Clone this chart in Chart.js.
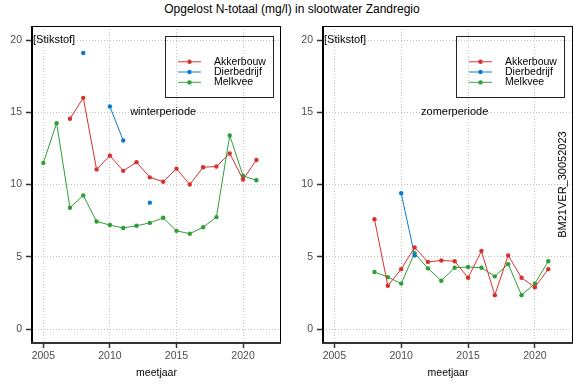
<!DOCTYPE html>
<html><head><meta charset="utf-8">
<script src="https://cdn.jsdelivr.net/npm/chart.js@4.4.1/dist/chart.umd.min.js"></script>
<style>
html,body{margin:0;padding:0;background:#fff;}
body{width:584px;height:389px;position:relative;overflow:hidden;font-family:"Liberation Sans",Arial,sans-serif;}
#title{position:absolute;left:0;width:584px;top:1px;text-align:center;font-size:12px;line-height:16px;color:#000;}
canvas{position:absolute;top:0;}
</style></head><body>
<div id="title">Opgelost N-totaal (mg/l) in slootwater Zandregio</div>
<canvas id="c1" width="292" height="389" style="left:0"></canvas>
<canvas id="c2" width="293" height="389" style="left:291px"></canvas>
<script>
const years = [2005,2006,2007,2008,2009,2010,2011,2012,2013,2014,2015,2016,2017,2018,2019,2020,2021];
const seriesNames = ['Akkerbouw','Dierbedrijf','Melkvee'];
const winterAkkerbouw  = [null,null,14.55,16.0,11.05,12.0,10.95,11.55,10.5,10.2,11.1,10.0,11.2,11.25,12.15,10.35,11.7];
const winterDierbedrijf= [null,null,null,19.1,null,15.4,13.05,null,8.75,null,null,null,null,null,null,null,null];
const winterMelkvee    = [11.5,14.25,8.4,9.25,7.45,7.2,7.0,7.15,7.35,7.7,6.8,6.6,7.05,7.75,13.4,10.6,10.3];
const zomerAkkerbouw   = [null,null,null,7.6,3.0,4.15,5.65,4.65,4.75,4.7,3.55,5.4,2.35,5.1,3.55,2.9,4.15];
const zomerDierbedrijf = [null,null,null,null,null,9.4,5.1,null,null,null,null,null,null,null,null,null,null];
const zomerMelkvee     = [null,null,null,3.95,3.6,3.15,5.25,4.2,3.35,4.25,4.3,4.25,3.65,4.5,2.35,3.15,4.7];
const xTicks = [2005,2010,2015,2020];
const yTicks = [0,5,10,15,20];
const colors = ['#d9302b','#0a7bd0','#2f9e36'];
const FONT = '"Liberation Sans", Arial, sans-serif';

const decor = {
  id:'decor',
  afterDatasetsDraw(chart, args, o){
    const ctx = chart.ctx, a = chart.chartArea, xs = chart.scales.x, ys = chart.scales.y;
    ctx.save();
    // panel border
    ctx.strokeStyle = '#000'; ctx.lineWidth = 1;
    ctx.strokeRect(a.left+0.5, a.top+0.5, a.right-a.left-1, a.bottom-a.top);
    ctx.fillStyle = '#000';
    ctx.fillRect(a.left-1, a.top, 2, a.bottom-a.top+1);
    ctx.fillStyle = '#333';
    ctx.fillRect(a.left-1, a.bottom-1, a.right-a.left+1, 2);
    // texts
    ctx.fillStyle = '#000';
    ctx.font = '11px ' + FONT;
    ctx.textBaseline = 'middle';
    ctx.textAlign = 'left';
    ctx.fillText('[Stikstof]', a.left+1, ys.getPixelForValue(20));
    ctx.textAlign = 'center';
    ctx.fillText(o.period, xs.getPixelForValue(2014), ys.getPixelForValue(15));
    if (o.code) {
      ctx.save();
      ctx.translate(xs.getPixelForValue(2022.07), ys.getPixelForValue(10));
      ctx.rotate(-Math.PI/2);
      ctx.fillText(o.code, 0, 0);
      ctx.restore();
    }
    // legend
    const lx = a.left + 133.5, ly = 36.5, lw = 108, lh = 61;
    ctx.strokeStyle = '#222'; ctx.lineWidth = 1;
    ctx.strokeRect(lx, ly, lw, lh);
    const rows = [61.7, 72, 82.4];
    ctx.font = '10.5px ' + FONT;
    ctx.textAlign = 'left';
    chart.data.datasets.forEach((d, i) => {
      const yy = rows[i];
      ctx.globalAlpha = 0.75;
      ctx.strokeStyle = d.borderColor; ctx.lineWidth = 1.3;
      ctx.beginPath(); ctx.moveTo(a.left+146, yy); ctx.lineTo(a.left+169, yy); ctx.stroke();
      ctx.globalAlpha = 1;
      ctx.fillStyle = d.borderColor;
      ctx.beginPath(); ctx.arc(a.left+157.5, yy, 2.2, 0, Math.PI*2); ctx.fill();
      ctx.fillStyle = '#000';
      ctx.fillText(d.label, a.left+182, yy);
    });
    ctx.restore();
  }
};

function makeChart(id, values, period, code) {
  return new Chart(document.getElementById(id), {
    type: 'line',
    data: {
      datasets: values.map((vals, i) => ({
        label: seriesNames[i],
        data: years.map((yr, j) => ({x: yr, y: vals[j]})),
        borderColor: colors[i], backgroundColor: colors[i],
        pointBackgroundColor: colors[i], pointBorderColor: colors[i],
        borderWidth: 1, pointRadius: 2.2, pointBorderWidth: 0,
        spanGaps: false, tension: 0
      }))
    },
    options: {
      responsive: false, animation: false, events: [],
      layout: {padding: {left: 0, right: 11, top: 26, bottom: 0}},
      plugins: {legend: {display: false}, tooltip: {enabled: false}, decor: {period, code}},
      scales: {
        x: {
          type: 'linear', min: 2004.15, max: 2022.85,
          afterBuildTicks: s => { s.ticks = xTicks.map(v => ({value: v})); },
          afterFit: s => { s.height = 46; },
          ticks: {color: '#4d4d4d', font: {family: FONT, size: 10.5}, padding: 2, maxRotation: 0, autoSkip: false,
                  callback: v => String(v)},
          grid: {color: '#c2c2c2', lineWidth: 1, tickLength: 5, tickColor: '#333', tickWidth: 1.5},
          border: {display: false, dash: [1, 2]},
          title: {display: true, text: 'meetjaar', color: '#000', font: {family: FONT, size: 10.5}, padding: {top: 0, bottom: 10}}
        },
        y: {
          type: 'linear', min: -0.96, max: 20.97,
          afterBuildTicks: s => { s.ticks = yTicks.map(v => ({value: v})); },
          afterFit: s => { s.width = 32; },
          ticks: {color: '#4d4d4d', font: {family: FONT, size: 10.5}, padding: 4, autoSkip: false,
                  callback: v => String(v)},
          grid: {color: '#c2c2c2', lineWidth: 1, tickLength: 6, tickColor: '#333', tickWidth: 1.5},
          border: {display: false, dash: [1, 2]}
        }
      }
    },
    plugins: [decor]
  });
}

makeChart('c1', [winterAkkerbouw, winterDierbedrijf, winterMelkvee], 'winterperiode', null);
makeChart('c2', [zomerAkkerbouw, zomerDierbedrijf, zomerMelkvee], 'zomerperiode', 'BM21VER_30052023');
</script>
</body></html>
